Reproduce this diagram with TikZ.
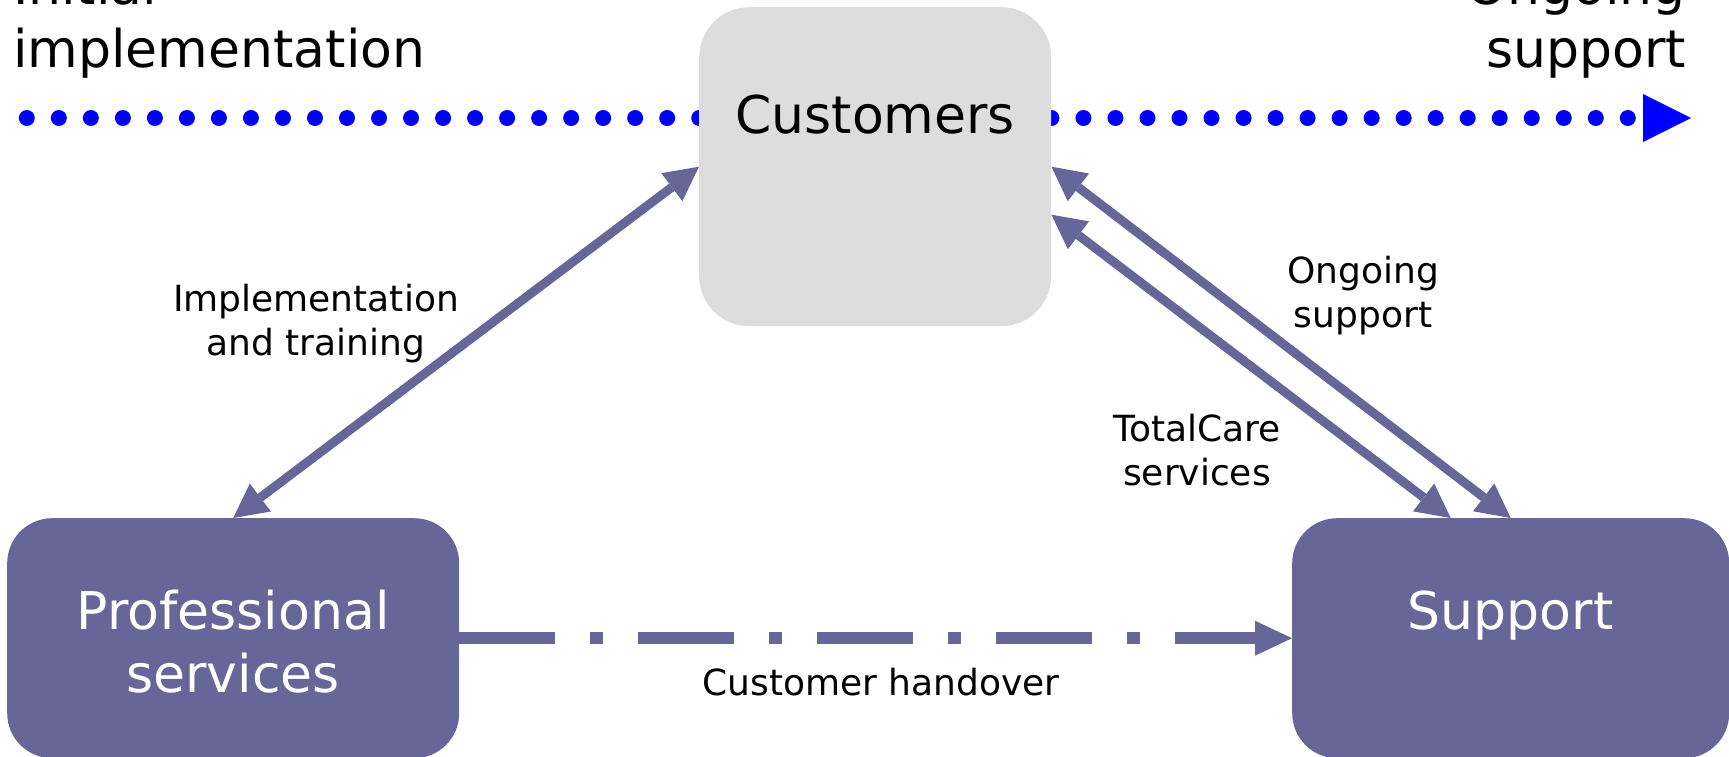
\documentclass[tikz,border=0pt]{standalone}
\usepackage{fontspec}
\setmainfont{DejaVu Sans}
\usetikzlibrary{arrows.meta}
\definecolor{boxpurple}{RGB}{102,102,153}
\definecolor{custgray}{RGB}{221,221,221}
\definecolor{dotblue}{RGB}{0,0,255}
\newcommand\bigtxt{\fontsize{52}{63}\selectfont}
\newcommand\smalltxt{\fontsize{36}{44}\selectfont}
\tikzset{
  pbox/.style={fill=boxpurple, text=white, inner sep=0pt, rounded corners=45pt, align=center, font=\bigtxt, anchor=north west},
  cbox/.style={fill=custgray, text=black, inner sep=0pt, rounded corners=50pt, align=center, font=\bigtxt, anchor=north west},
  lbl/.style={inner sep=0pt, align=center, font=\smalltxt, anchor=base},
  phase/.style={inner sep=0pt, font=\bigtxt},
  timeline/.style={draw=dotblue, line width=16pt, line cap=round, dash pattern=on 0pt off 32.02pt, -{Triangle[length=48pt,width=48pt,line width=0pt]}},
  dbl/.style={draw=boxpurple, line width=9pt, >={Triangle[length=34pt,width=35pt,line width=0pt]}, <->},
  handover/.style={draw=boxpurple, line width=12pt, dash pattern=on 96pt off 35pt on 13pt off 35pt, -{Triangle[length=37pt,width=35pt,line width=0pt]}}
}
\begin{document}
\begin{tikzpicture}[x=1pt,y=-1pt]
\useasboundingbox (0,0) rectangle (1729,757);
% timeline
\coordinate (tl0) at (26.8,118);
\coordinate (tl1) at (1691,118);
\draw[timeline] (tl0) -- (tl1);
\node[phase, align=left, anchor=base west] (init) at (13,68) {Initial\\implementation};
\node[phase, align=right, anchor=base east] (ongo) at (1686,68) {Ongoing\\support};
% boxes
\node[cbox, minimum width=352pt, minimum height=319pt, text width=352pt, text height=126pt, text depth=193pt] (cust) at (699,7) {Customers};
\node[pbox, minimum width=452pt, minimum height=240pt, text width=452pt, text height=111pt, text depth=129pt] (ps) at (7,518) {Professional\\services};
\node[pbox, minimum width=437pt, minimum height=240pt, text width=437pt, text height=111pt, text depth=129pt] (sup) at (1292,518) {Support};
% connectors
\draw[dbl] (ps.north) -- (cust.west);
\draw[dbl] (cust.east) -- (sup.north);
\draw[dbl] ([yshift=-48pt]cust.east) -- ([xshift=-60pt]sup.north);
\draw[handover] (ps.east) -- (sup.west);
% labels
\node[lbl] (limpl) at (316,355) {Implementation\\and training};
\node[lbl] (lsup) at (1363,327) {Ongoing\\support};
\node[lbl] (ltc) at (1197,485) {TotalCare\\services};
\node[lbl] (lho) at (881,695) {Customer handover};
\end{tikzpicture}
\end{document}
